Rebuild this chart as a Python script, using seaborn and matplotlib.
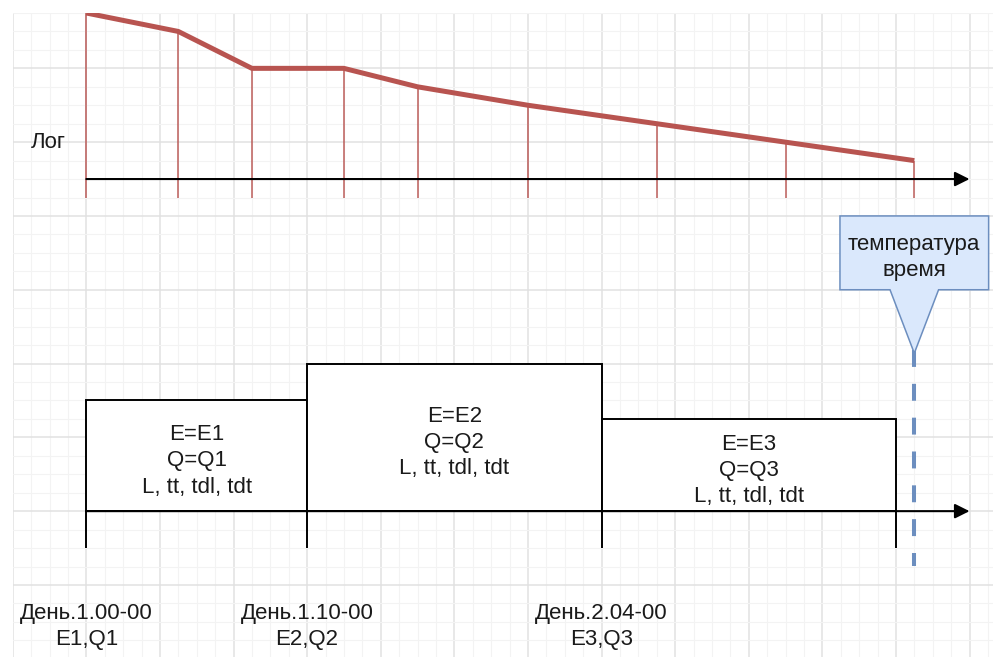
import numpy as np
import pandas as pd
import matplotlib
matplotlib.use('Agg')
import matplotlib.pyplot as plt
import seaborn as sns
from matplotlib.ticker import MultipleLocator
from matplotlib.patches import Polygon

# Log curve: time (grid cells) and value above the log axis
log_t = [0, 1.25, 2.25, 3.5, 4.5, 6.0, 7.75, 9.5, 11.25]
log_v = [2.25, 2.0, 1.5, 1.5, 1.25, 1.0, 0.75, 0.5, 0.25]

# Intervals on the time axis
seg_start = [0, 3, 7]
seg_end = [3, 7, 11]
seg_height = [1.5, 2.0, 1.25]
seg_text = ["E=E1\nQ=Q1\nL, tt, tdl, tdt",
            "E=E2\nQ=Q2\nL, tt, tdl, tdt",
            "E=E3\nQ=Q3\nL, tt, tdl, tdt"]
tick_labels = ["День.1.00-00\nE1,Q1",
               "День.1.10-00\nE2,Q2",
               "День.2.04-00\nE3,Q3"]

# Callout marker
callout_t = 11.25
callout_text = "температура\nвремя"
log_label = "Лог"

LOG_BASE = 4.5
AXIS_END = 12
FS = 16
TXT = '#1a1a1a'
RED = '#b85450'
BLUE_EDGE = '#6c8ebf'
BLUE_FILL = '#dae8fc'


def main():
    sns.set_style('white')
    plt.rcParams['font.family'] = ['Liberation Sans', 'DejaVu Sans']

    fig = plt.figure(figsize=(9.93, 6.57), dpi=100)
    ax = fig.add_axes([12.7 / 993, 0, 1 - 12.7 / 993, 644 / 657])
    ax.set_xlim(-1, -1 + 980.3 / 73.6)
    ax.set_ylim(6.75 - 644 / 73.8, 6.75)

    # background grid
    ax.xaxis.set_major_locator(MultipleLocator(1))
    ax.yaxis.set_major_locator(MultipleLocator(1))
    ax.xaxis.set_minor_locator(MultipleLocator(0.25))
    ax.yaxis.set_minor_locator(MultipleLocator(0.25))
    ax.grid(which='major', color='#e1e1e1', lw=1.1)
    ax.grid(which='minor', color='#f3f3f3', lw=0.8)
    ax.set_axisbelow(True)
    ax.tick_params(which='both', length=0, labelbottom=False, labelleft=False)
    for s in ax.spines.values():
        s.set_visible(False)

    # --- log panel ---
    log_df = pd.DataFrame({'t': log_t, 'v': LOG_BASE + np.array(log_v)})
    ax.vlines(log_t, LOG_BASE - 0.25, log_df['v'], color=RED, alpha=0.8, lw=1.3, zorder=2)
    sns.lineplot(data=log_df, x='t', y='v', ax=ax, color=RED, lw=3.6, zorder=3,
                 solid_capstyle='butt', solid_joinstyle='round')
    ax.annotate('', xy=(AXIS_END, LOG_BASE), xytext=(0, LOG_BASE),
                arrowprops=dict(arrowstyle='-|>', color='black', lw=1.5,
                                mutation_scale=22, shrinkA=0, shrinkB=0), zorder=4)
    ax.text(-0.52, LOG_BASE + 0.5, log_label, ha='center', va='center',
            fontsize=FS, color=TXT)

    # --- interval panel ---
    widths = np.subtract(seg_end, seg_start)
    ax.bar(seg_start, seg_height, width=widths, align='edge', color='white',
           edgecolor='black', lw=1.4, zorder=2)
    for s, w, h, txt in zip(seg_start, widths, seg_height, seg_text):
        ax.text(s + w / 2, h / 2 - 0.07, txt, ha='center', va='center', fontsize=FS,
                color=TXT, linespacing=1.32, zorder=5)
    ax.vlines(seg_start + [seg_end[-1]], -0.5, 0, color='black', lw=1.4, zorder=3)
    ax.annotate('', xy=(AXIS_END, 0), xytext=(0, 0),
                arrowprops=dict(arrowstyle='-|>', color='black', lw=1.5,
                                mutation_scale=22, shrinkA=0, shrinkB=0), zorder=4)
    for s, lab in zip(seg_start, tick_labels):
        ax.text(s, -1.56, lab, ha='center', va='center', fontsize=FS,
                color=TXT, linespacing=1.32)

    # --- callout + dashed marker ---
    ax.plot([callout_t, callout_t], [2.18, -0.745], color=BLUE_EDGE, lw=2.9,
            linestyle=(0, (4.2, 4.2)), zorder=4)
    hw, tri, top, bot, tip = 1.01, 0.33, 4.0, 3.0, 2.14
    shape = [(callout_t - hw, top), (callout_t + hw, top), (callout_t + hw, bot),
             (callout_t + tri, bot), (callout_t, tip), (callout_t - tri, bot),
             (callout_t - hw, bot)]
    ax.add_patch(Polygon(shape, closed=True, facecolor=BLUE_FILL,
                         edgecolor=BLUE_EDGE, lw=1.1, zorder=5))
    ax.text(callout_t, (top + bot) / 2 - 0.06, callout_text, ha='center', va='center',
            fontsize=FS, color=TXT, linespacing=1.32, zorder=6)

    fig.savefig('out.png', dpi=100)
    plt.close(fig)


if __name__ == "__main__":
    main()
